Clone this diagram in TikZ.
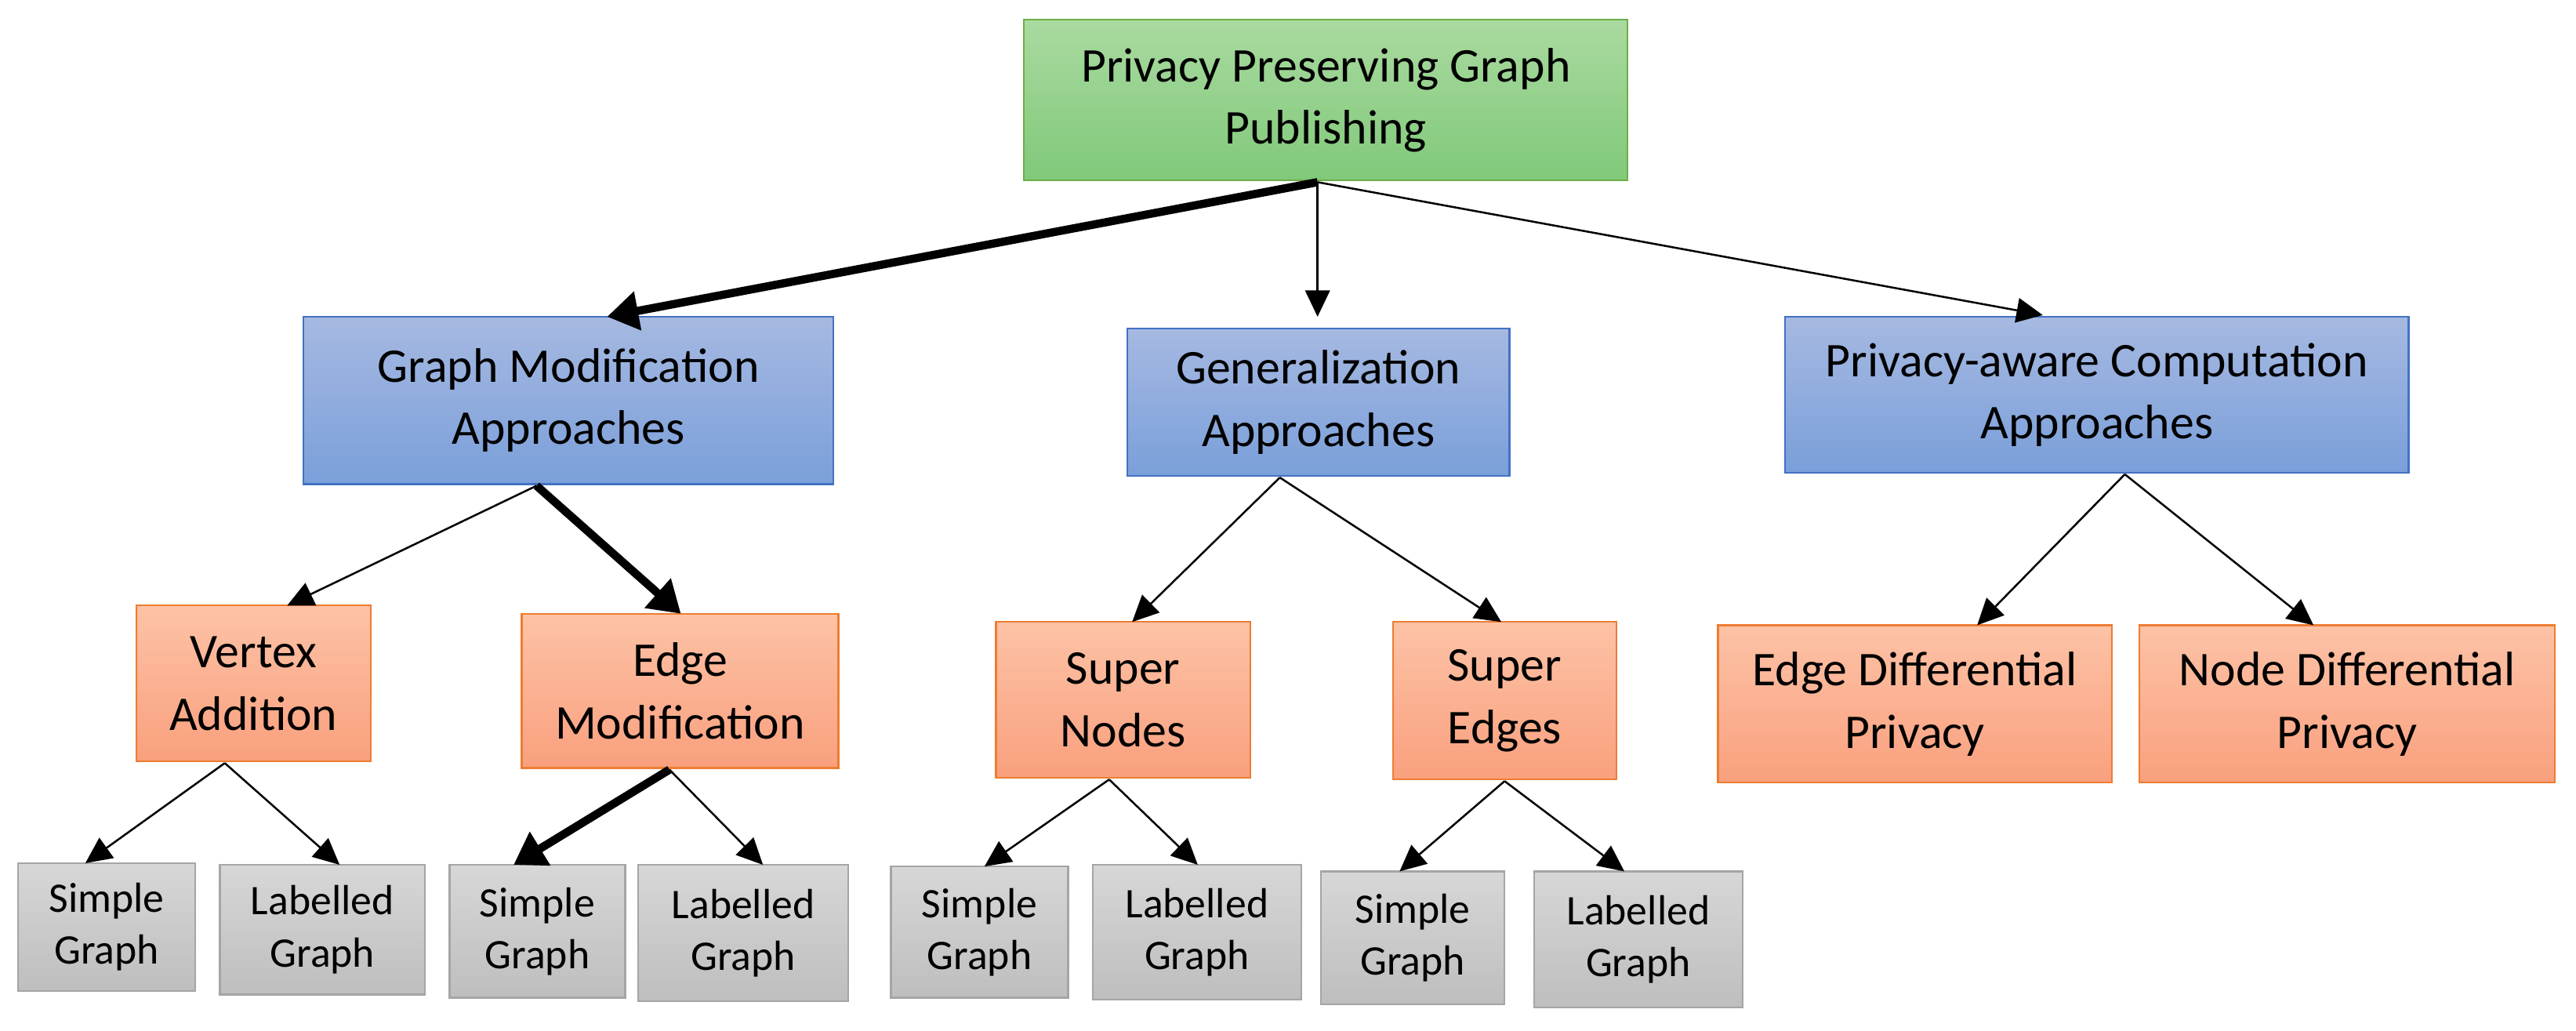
\documentclass[tikz,border=0pt]{standalone}
\usepackage{fontspec}
\setmainfont{Carlito}
\usetikzlibrary{arrows.meta}
\begin{document}
\begin{tikzpicture}[x=0.1mm,y=-0.1mm,
 box/.style={draw,line width=0.3pt,align=center,inner sep=0pt,font=\fontsize{8.4}{10.8}\selectfont},
 green/.style={box,draw={rgb,255:red,112;green,173;blue,71},top color={rgb,255:red,170;green,218;blue,160},bottom color={rgb,255:red,128;green,201;blue,122}},
 blue/.style={box,draw={rgb,255:red,68;green,114;blue,196},top color={rgb,255:red,166;green,185;blue,225},bottom color={rgb,255:red,122;green,159;blue,218}},
 orange/.style={box,draw={rgb,255:red,237;green,125;blue,49},top color={rgb,255:red,253;green,194;blue,166},bottom color={rgb,255:red,249;green,160;blue,126}},
 gray/.style={box,draw={rgb,255:red,165;green,165;blue,165},top color={rgb,255:red,215;green,215;blue,215},bottom color={rgb,255:red,190;green,190;blue,190},font=\fontsize{7.3}{9}\selectfont},
 thin/.style={-{Triangle[length=1.6mm,width=1.5mm]},line width=0.12mm},
 thick/.style={-{Triangle[length=1.9mm,width=2.3mm]},line width=0.5mm}]
\useasboundingbox (0,0) rectangle (1570,628);
\newcommand{\bx}[5]{\node[#1,minimum width={(#4-#2)*0.1mm},minimum height={(#5-#3)*0.1mm}] at ({(#2+#4)/2},{(#3+#5)/2})}
\bx{green}{624}{12}{992}{110} (root) {Privacy Preserving Graph\\Publishing};
\bx{blue}{185}{193}{508}{295} (gm) {Graph Modification\\Approaches};
\bx{blue}{687}{200}{920}{290} (gen) {Generalization\\Approaches};
\bx{blue}{1088}{193}{1468}{288} (pac) {Privacy-aware Computation\\Approaches};
\bx{orange}{83}{369}{226}{464} (va) {Vertex\\Addition};
\bx{orange}{318}{374}{511}{468} (em) {Edge\\Modification};
\bx{orange}{607}{379}{762}{474} (sn) {Super\\Nodes};
\bx{orange}{849}{379}{985}{475} (se) {Super\\Edges};
\bx{orange}{1047}{381}{1287}{477} (edp) {Edge Differential\\Privacy};
\bx{orange}{1304}{381}{1557}{477} (ndp) {Node Differential\\Privacy};
\bx{gray}{11}{526}{119}{604} (g1) {Simple\\Graph};
\bx{gray}{134}{527}{259}{606} (g2) {Labelled\\Graph};
\bx{gray}{274}{527}{381}{608} (g3) {Simple\\Graph};
\bx{gray}{389}{527}{517}{610} (g4) {Labelled\\Graph};
\bx{gray}{543}{528}{651}{608} (g5) {Simple\\Graph};
\bx{gray}{666}{527}{793}{609} (g6) {Labelled\\Graph};
\bx{gray}{805}{531}{917}{612} (g7) {Simple\\Graph};
\bx{gray}{935}{531}{1062}{614} (g8) {Labelled\\Graph};
\coordinate (r0) at (803,111);
\coordinate (gmT) at (370,193); \coordinate (genT) at (803,193); \coordinate (pacT) at (1245,192);
\coordinate (gmB) at (327,296); \coordinate (vaT) at (175,369); \coordinate (emT) at (415,374);
\coordinate (genB) at (780,291); \coordinate (snT) at (690,379); \coordinate (seT) at (915,379);
\coordinate (pacB) at (1295,289); \coordinate (edpT) at (1205,381); \coordinate (ndpT) at (1410,381);
\coordinate (vaB) at (137,465); \coordinate (g1T) at (52,526); \coordinate (g2T) at (207,527);
\coordinate (emB) at (408,469); \coordinate (g3T) at (313,527); \coordinate (g4T) at (465,527);
\coordinate (snB) at (676,475); \coordinate (g5T) at (600,528); \coordinate (g6T) at (730,527);
\coordinate (seB) at (917,476); \coordinate (g7T) at (853,531); \coordinate (g8T) at (990,531);
\draw[thick] (r0) -- (gmT);
\draw[thin] (r0) -- (genT);
\draw[thin] (r0) -- (pacT);
\draw[thin] (gmB) -- (vaT);
\draw[thick] (gmB) -- (emT);
\draw[thin] (genB) -- (snT);
\draw[thin] (genB) -- (seT);
\draw[thin] (pacB) -- (edpT);
\draw[thin] (pacB) -- (ndpT);
\draw[thin] (vaB) -- (g1T);
\draw[thin] (vaB) -- (g2T);
\draw[thick] (emB) -- (g3T);
\draw[thin] (emB) -- (g4T);
\draw[thin] (snB) -- (g5T);
\draw[thin] (snB) -- (g6T);
\draw[thin] (seB) -- (g7T);
\draw[thin] (seB) -- (g8T);
\end{tikzpicture}
\end{document}
